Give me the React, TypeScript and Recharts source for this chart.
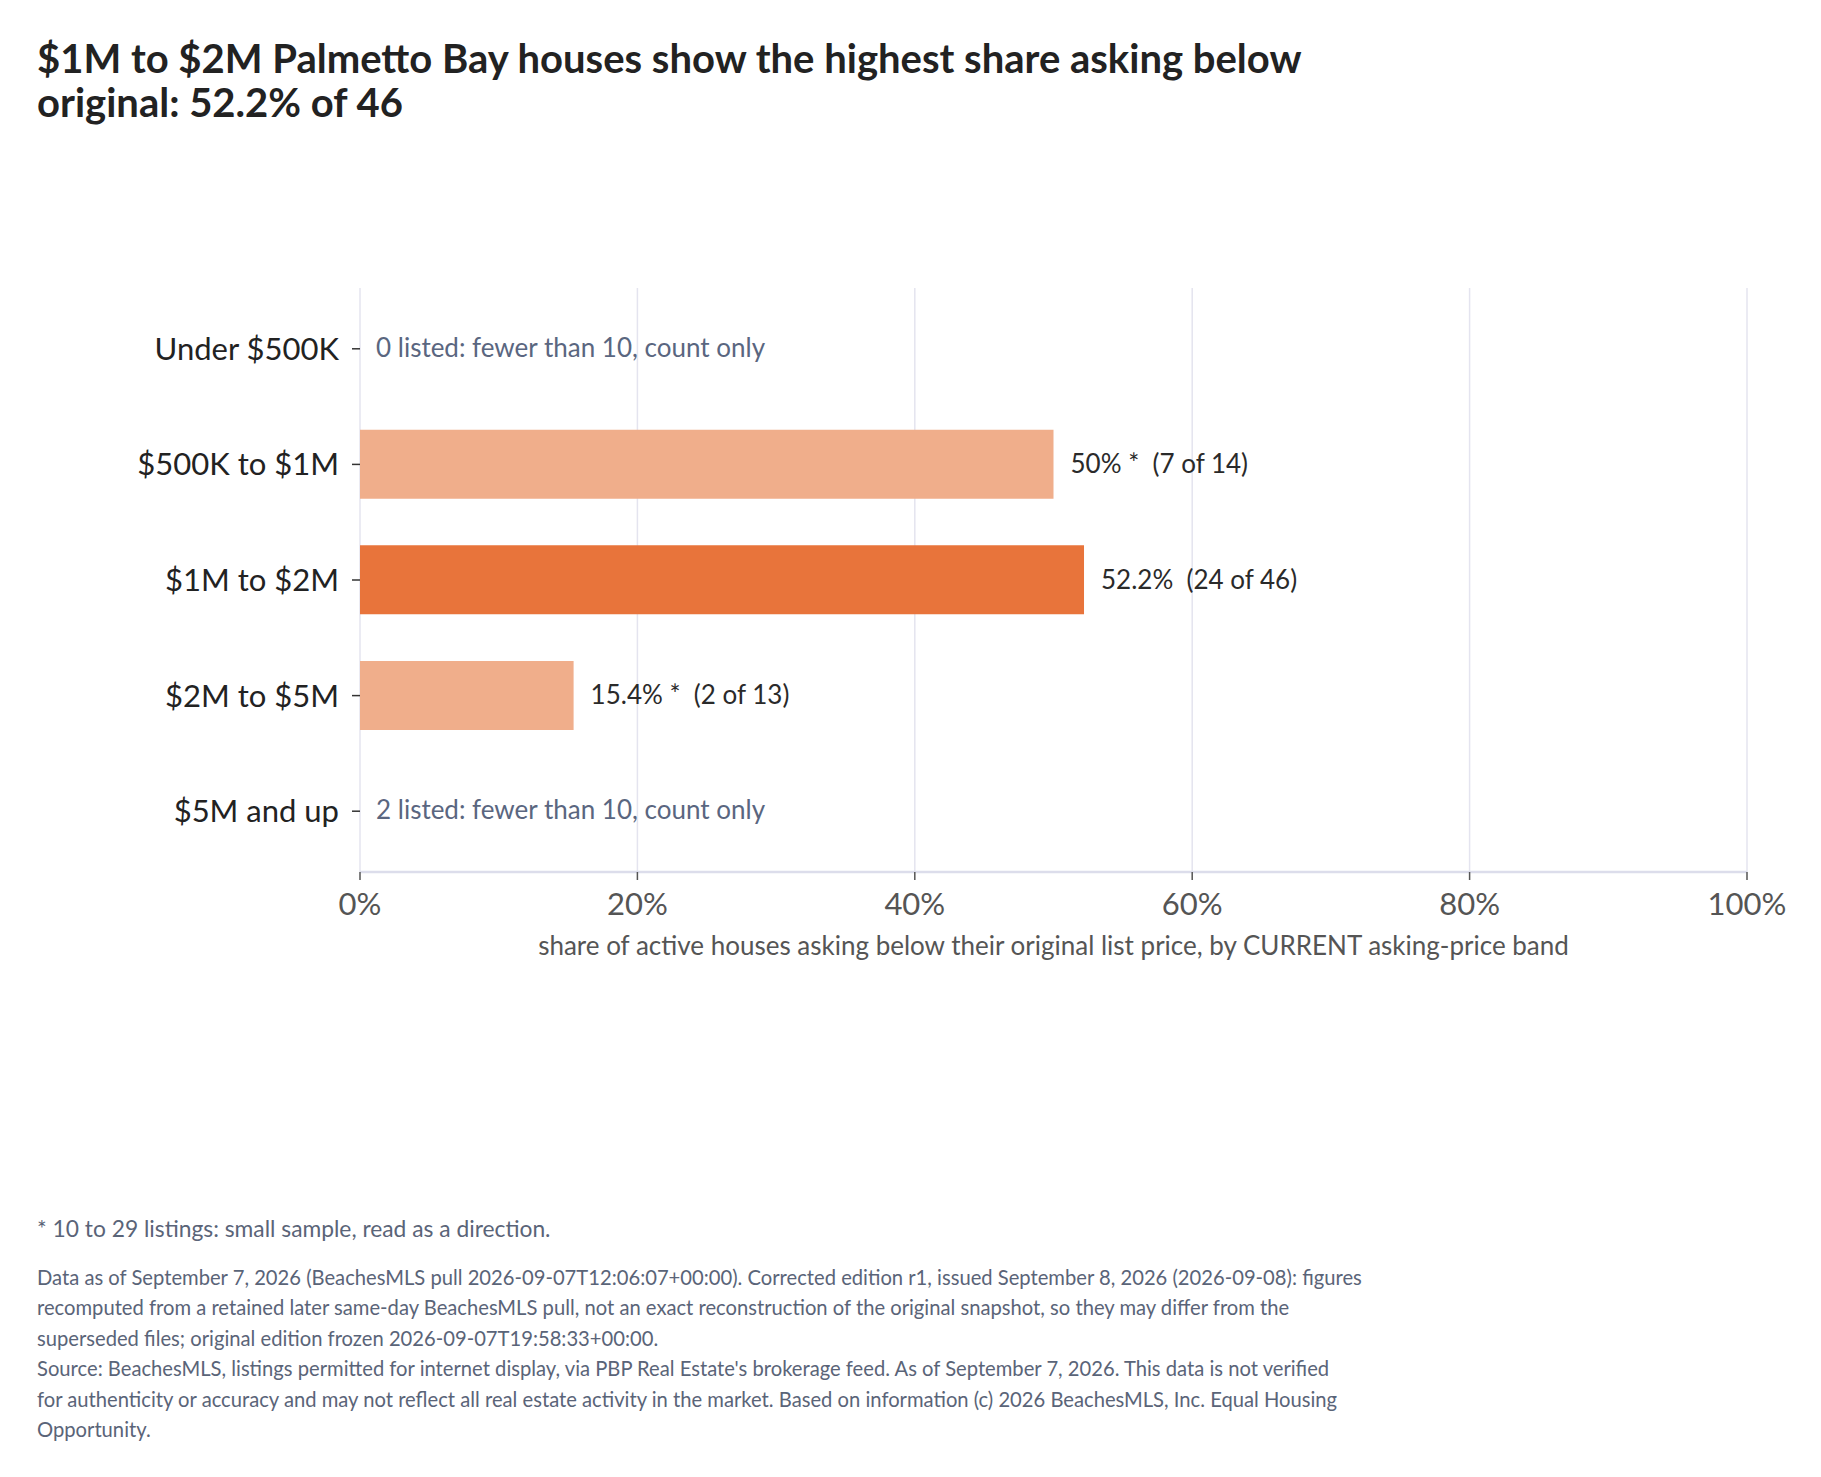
import React from 'react';
import { BarChart, Bar, XAxis, YAxis, CartesianGrid, Cell, LabelList } from 'recharts';

const bands = ['Under $500K', '$500K to $1M', '$1M to $2M', '$2M to $5M', '$5M and up'];
const shares: (number | null)[] = [null, 50, 52.2, 15.4, null];
const belowCounts: (number | null)[] = [null, 7, 24, 2, null];
const listedCounts = [0, 14, 46, 13, 2];
const smallSample = [false, true, false, true, false];
const leaderIndex = 2;
const xTicks = [0, 20, 40, 60, 80, 100];

const title = ['$1M to $2M Palmetto Bay houses show the highest share asking below', 'original: 52.2% of 46'];
const axisTitle = 'share of active houses asking below their original list price, by CURRENT asking-price band';
const footnote = '* 10 to 29 listings: small sample, read as a direction.';
const sourceLines = [
  'Data as of September 7, 2026 (BeachesMLS pull 2026-09-07T12:06:07+00:00). Corrected edition r1, issued September 8, 2026 (2026-09-08): figures',
  'recomputed from a retained later same-day BeachesMLS pull, not an exact reconstruction of the original snapshot, so they may differ from the',
  'superseded files; original edition frozen 2026-09-07T19:58:33+00:00.',
  "Source: BeachesMLS, listings permitted for internet display, via PBP Real Estate's brokerage feed. As of September 7, 2026. This data is not verified",
  'for authenticity or accuracy and may not reflect all real estate activity in the market. Based on information (c) 2026 BeachesMLS, Inc. Equal Housing',
  'Opportunity.',
];

const FONT = 'Lato, "Noto Sans", sans-serif';
const LIGHT = '#F0AE8B';
const DARK = '#E8743B';
const GRID = '#E4E4EF';
const TICK_SIZE = 8;
const Y_TICK_GAP = 13;

const rows = bands.map((band, i) => ({ band, share: shares[i] }));

// category label, plus the "count only" note inside the plot for bands without a share
const YTick = (props: any) => {
  const { x, y, payload, index } = props;
  const plotLeft = x + TICK_SIZE + Y_TICK_GAP;
  return (
    <g>
      <text x={x} y={y} dy={11} textAnchor="end" fill="#222" fontSize={31} fontFamily={FONT}>
        {payload.value}
      </text>
      {shares[index] == null && (
        <text x={plotLeft + 16} y={y} dy={8} fill="#5A6680" fontSize={26} fontFamily={FONT}>
          {listedCounts[index]} listed: fewer than 10, count only
        </text>
      )}
    </g>
  );
};

const XTick = (props: any) => {
  const { x, y, payload } = props;
  return (
    <text x={x} y={y} dy={35} textAnchor="middle" fill="#555" fontSize={31} fontFamily={FONT}>
      {payload.value}%
    </text>
  );
};

const BarText = (props: any) => {
  const { x, y, width, height, value } = props;
  const i = bands.indexOf(value);
  if (i < 0 || shares[i] == null) return null;
  const star = smallSample[i] ? ' *' : '';
  return (
    <text x={x + width + 17} y={y + height / 2} dy={9} fill="#2a2a2a" fontSize={26} fontFamily={FONT} style={{ whiteSpace: 'pre' }}>
      {`${shares[i]}%${star}  (${belowCounts[i]} of ${listedCounts[i]})`}
    </text>
  );
};

export default function App() {
  return (
    <div style={{ position: 'relative', width: 1805, height: 1461, fontFamily: FONT, background: '#fff' }}>
      <div style={{ position: 'absolute', left: 29, top: 28, fontSize: 40, fontWeight: 700, lineHeight: '44px', color: '#222', whiteSpace: 'nowrap' }}>
        {title[0]}
        <br />
        {title[1]}
      </div>

      <div style={{ position: 'absolute', left: 0, top: 0 }}>
        <BarChart
          width={1805}
          height={1000}
          data={rows}
          layout="vertical"
          margin={{ top: 280, right: 66, bottom: 36, left: 0 }}
          barCategoryGap="20%"
        >
          <CartesianGrid horizontal={false} stroke={GRID} strokeWidth={1.5} />
          <XAxis
            type="number"
            domain={[0, 100]}
            ticks={xTicks}
            interval={0}
            height={100}
            axisLine={{ stroke: '#DCDDEB', strokeWidth: 2.5 }}
            tickLine={{ stroke: '#555', strokeWidth: 1.5 }}
            tickSize={TICK_SIZE}
            tickMargin={0}
            tick={<XTick />}
            label={{
              content: (p: any) => (
                <text
                  x={p.viewBox.x + p.viewBox.width / 2}
                  y={p.viewBox.y + 83}
                  textAnchor="middle"
                  fill="#555"
                  fontSize={26}
                  fontFamily={FONT}
                >
                  {axisTitle}
                </text>
              ),
            }}
          />
          <YAxis
            type="category"
            dataKey="band"
            width={352}
            padding={{ top: 3, bottom: 3 }}
            axisLine={false}
            tickLine={{ stroke: '#333', strokeWidth: 1.5 }}
            tickSize={TICK_SIZE}
            tickMargin={Y_TICK_GAP}
            tick={<YTick />}
          />
          <Bar dataKey="share" isAnimationActive={false}>
            {rows.map((r, i) => (
              <Cell key={r.band} fill={i === leaderIndex ? DARK : LIGHT} />
            ))}
            <LabelList dataKey="band" content={<BarText />} />
          </Bar>
        </BarChart>
      </div>

      <div style={{ position: 'absolute', left: 29, top: 1206, fontSize: 22.8, lineHeight: '28px', color: '#5A6478', whiteSpace: 'nowrap' }}>
        {footnote}
      </div>
      <div style={{ position: 'absolute', left: 29, top: 1254, fontSize: 20.2, lineHeight: '30.4px', color: '#5A6478', whiteSpace: 'nowrap' }}>
        {sourceLines.map((l) => (
          <div key={l}>{l}</div>
        ))}
      </div>
    </div>
  );
}
